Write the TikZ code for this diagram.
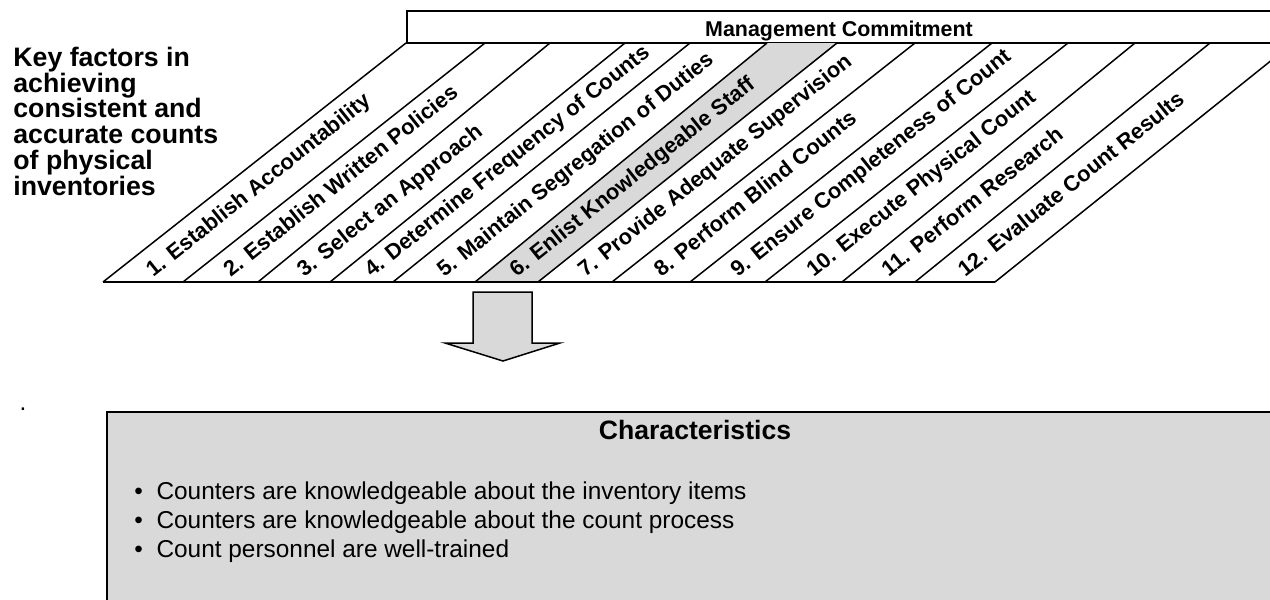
\documentclass[tikz,border=0pt]{standalone}
\usepackage{fontspec}
\setmainfont{Liberation Sans}
\usepackage{tikz}
\usetikzlibrary{positioning}
\definecolor{shadegray}{HTML}{D9D9D9}
\newcommand{\bandbottom}{282}
\newcommand{\bandtop}{43}
\newcommand{\factorlabel}[4]{\node[factor] (f#1) at ({(#2+#3)/2+10},278) {#1. #4};}
\tikzset{
  bandline/.style={draw=black, line width=0.75pt},
  factor/.style={anchor=base west, inner sep=0pt, rotate=38.6,
    font=\fontsize{10.9}{13}\selectfont\bfseries},
  boxline/.style={draw=black, line width=1pt},
  itemtext/.style={anchor=base west, inner sep=0pt,
    font=\fontsize{12.2}{15}\selectfont}
}

\begin{document}
\begin{tikzpicture}[x=0.5pt, y=-0.5pt]
    \useasboundingbox (0,0) rectangle (1270,600);
    \clip (0,0) rectangle (1270,600);
    % heading on the left
    \node[anchor=north west, inner sep=0pt, align=left,
      font=\fontsize{13.35}{12.9}\selectfont\bfseries] (title) at (13,46.5)
      {Key factors in\\achieving\\consistent and\\accurate counts\\of physical\\inventories};
    % management commitment bar
    \draw[boxline] (407,43) rectangle (1290,11);
    \node[anchor=base, inner sep=0pt, font=\fontsize{10.7}{13}\selectfont\bfseries]
      (mgmt) at (839,36) {Management Commitment};
    % shaded band 6
    \fill[shadegray] (475,\bandbottom) -- (538,\bandbottom) -- (837,\bandtop) -- (767,\bandtop) -- cycle;
    % slanted bands
    \foreach \b/\t in {103/406,183/485,258/550,330/625,393/690,475/767,
                       538/837,612/915,690/992,765/1068,842/1135,915/1210,995/1293}
        \draw[bandline] (\b,\bandbottom) -- (\t,\bandtop);
    \draw[bandline] (103,\bandbottom) -- (995,\bandbottom);
    \factorlabel{1}{103}{183}{Establish Accountability}
    \factorlabel{2}{183}{258}{Establish Written Policies}
    \factorlabel{3}{258}{330}{Select an Approach}
    \factorlabel{4}{330}{393}{Determine Frequency of Counts}
    \factorlabel{5}{393}{475}{Maintain Segregation of Duties}
    \factorlabel{6}{475}{538}{Enlist Knowledgeable Staff}
    \factorlabel{7}{538}{612}{Provide Adequate Supervision}
    \factorlabel{8}{612}{690}{Perform Blind Counts}
    \factorlabel{9}{690}{765}{Ensure Completeness of Count}
    \factorlabel{10}{765}{842}{Execute Physical Count}
    \factorlabel{11}{842}{915}{Perform Research}
    \factorlabel{12}{915}{995}{Evaluate Count Results}
    % block arrow
    \filldraw[fill=shadegray, draw=black, line width=0.75pt]
      (473,292) -- (532,292) -- (532,343) -- (560,343) -- (503,361)
      -- (445,343) -- (473,343) -- cycle;
    % characteristics box
    \node[anchor=base, inner sep=0pt, font=\fontsize{12.2}{15}\selectfont] (dot) at (23,410.5) {.};
    \filldraw[fill=shadegray, boxline] (107,412) rectangle (1283,620);
    \node[anchor=base, inner sep=0pt, font=\fontsize{13.3}{16}\selectfont\bfseries]
      (chars) at (695,439) {Characteristics};
    \node[itemtext] (item1) at (134,499) {\textbullet\hspace{6.8pt}Counters are knowledgeable about the inventory items};
    \node[itemtext] (item2) at (134,528) {\textbullet\hspace{6.8pt}Counters are knowledgeable about the count process};
    \node[itemtext] (item3) at (134,557) {\textbullet\hspace{6.8pt}Count personnel are well-trained};
\end{tikzpicture}
\end{document}
